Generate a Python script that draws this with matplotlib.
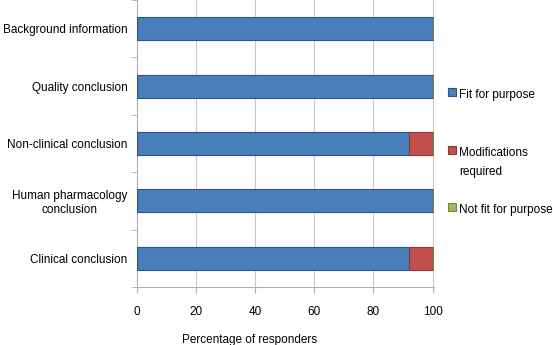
import matplotlib.pyplot as plt
from matplotlib.patches import Rectangle

plt.rcParams['font.family'] = ['Liberation Sans', 'DejaVu Sans']

# Survey results per section of the report
sections = ['Background information', 'Quality conclusion', 'Non-clinical conclusion',
            'Human pharmacology\nconclusion', 'Clinical conclusion']
fit = [100, 100, 92, 100, 92]
modifications = [0, 0, 8, 0, 8]
not_fit = [0, 0, 0, 0, 0]

labels = ['Fit for purpose', 'Modifications\nrequired', 'Not fit for purpose']
colors = ['#4a7ebb', '#c0504d', '#9bbb59']
edges = ['#2c5487', '#8c3836', '#71893f']

W, H = 553, 345
fig = plt.figure(figsize=(W / 100, H / 100), dpi=100)
ax = fig.add_axes([137 / W, 58 / H, 297 / W, 287 / H])

y = list(range(len(sections)))[::-1]
h = 0.4
left = [0] * len(sections)
for vals, c, e in zip([fit, modifications, not_fit], colors, edges):
    ax.barh(y, vals, h, left=left, color=c, edgecolor=e, linewidth=0.8, zorder=3)
    left = [l + v for l, v in zip(left, vals)]

ax.set_xlim(0, 100.5)
ax.set_ylim(-0.5, len(sections) - 0.5)
ax.set_xticks(range(0, 101, 20))
ax.set_yticks(y)
ax.set_yticklabels(sections, fontsize=8.5, multialignment='center')
ax.set_yticks([i + 0.5 for i in range(-1, len(sections))], minor=True)
ax.tick_params(axis='y', which='major', length=0, pad=7)
ax.tick_params(axis='y', which='minor', length=4, color='#b0b0b0')
ax.tick_params(axis='x', length=4, color='#b0b0b0', labelsize=8.5, pad=10)
ax.grid(axis='x', color='#c8c8c8', linewidth=0.8, zorder=0)
for s in ['top', 'right']:
    ax.spines[s].set_visible(False)
for s in ['left', 'bottom']:
    ax.spines[s].set_color('#b0b0b0')

fig.text(250 / W, 1 - 340 / H, 'Percentage of responders', fontsize=8.5,
         ha='center', va='center')

# legend drawn by hand so each swatch sits on the first line of its label
legend_y = [92, 150, 207]
for lab, c, e, ly in zip(labels, colors, edges, legend_y):
    fig.patches.append(Rectangle((448 / W, 1 - (ly + 4) / H), 8 / W, 8 / H,
                                 facecolor=c, edgecolor=e, linewidth=0.8,
                                 transform=fig.transFigure))
    fig.text(459 / W, 1 - (ly - 3) / H, lab, fontsize=8.5, ha='left', va='top',
             linespacing=1.75)

fig.savefig('out.png', dpi=100)
